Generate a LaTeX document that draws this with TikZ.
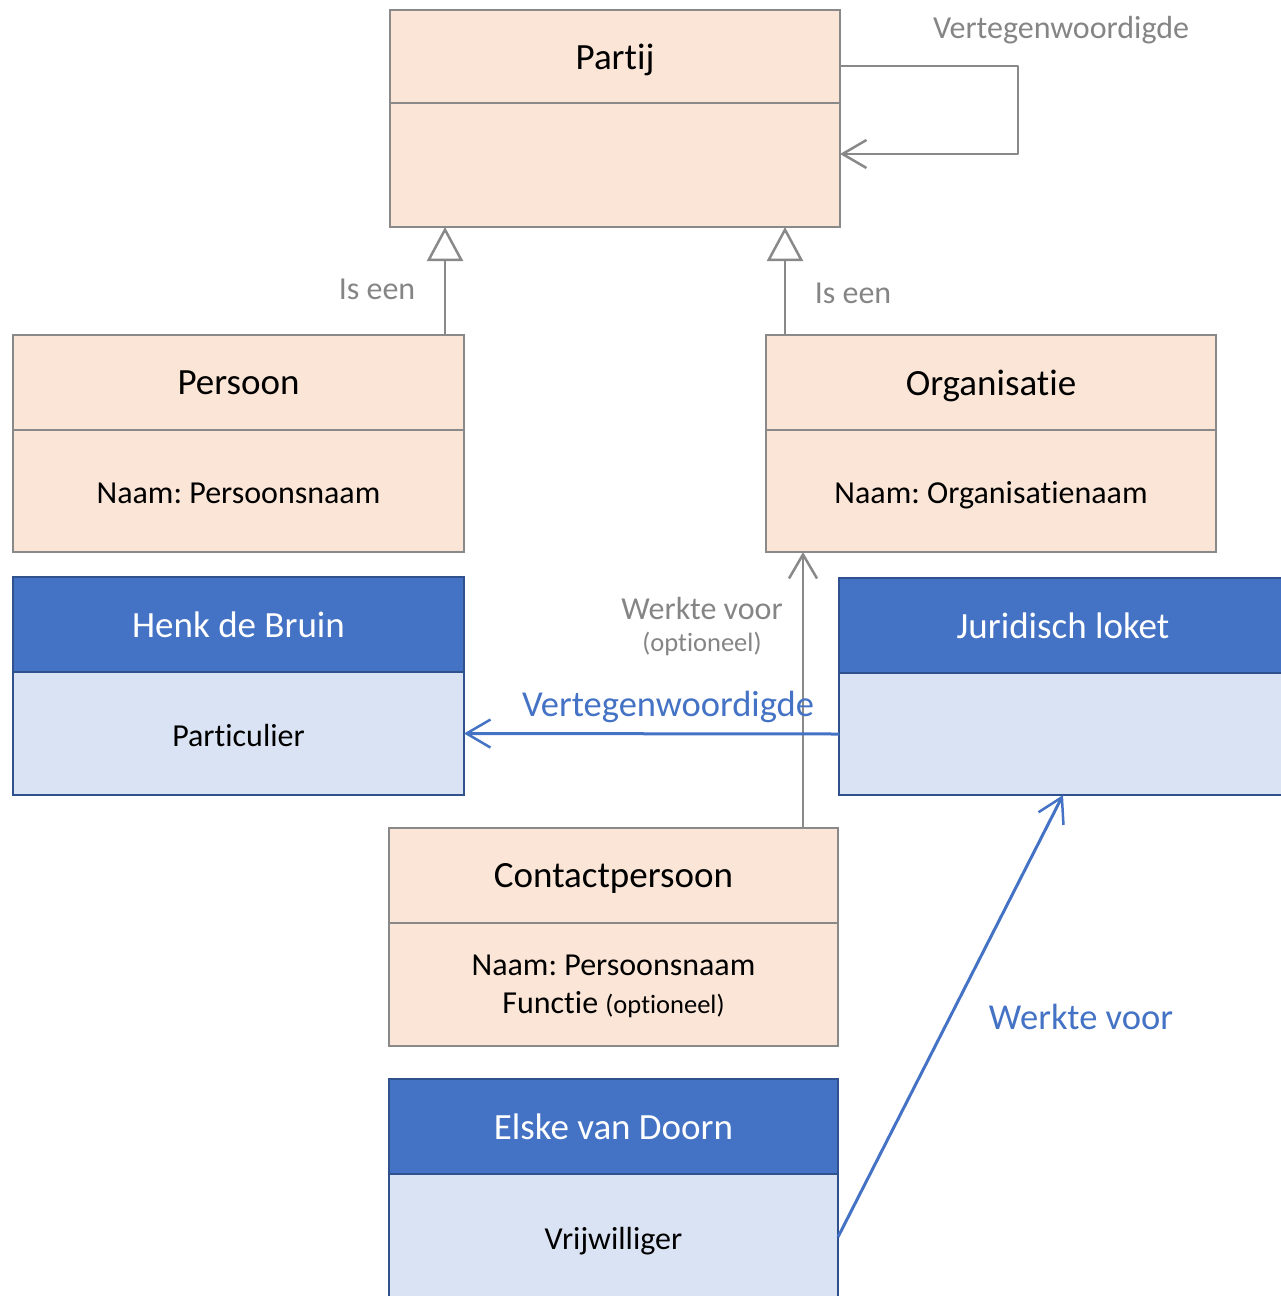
\documentclass[tikz,border=0pt]{standalone}
\usepackage{fontspec}
\setmainfont{Carlito}[Ligatures=NoCommon]
\frenchspacing
\usetikzlibrary{arrows.meta}
\definecolor{peachfill}{HTML}{FBE5D6}
\definecolor{boxgray}{HTML}{898989}
\definecolor{labelgray}{HTML}{858585}
\definecolor{bluehead}{HTML}{4472C4}
\definecolor{bluebody}{HTML}{DAE3F3}
\definecolor{blueedge}{HTML}{2F528F}
\newcommand{\titlesize}{\fontsize{37}{44}\selectfont}
\newcommand{\attrsize}{\fontsize{32}{38}\selectfont}
\newcommand{\smallsize}{\fontsize{26.5}{32}\selectfont}
\newcommand{\bluesize}{\fontsize{36.5}{44}\selectfont}
\begin{document}
\begin{tikzpicture}[x=1pt,y=-1pt,
  classpart/.style={rectangle, inner sep=0pt, outer sep=0pt, line width=2.5pt, align=center},
  peachhead/.style={classpart, draw=boxgray, fill=peachfill, font=\titlesize, text depth=0pt},
  peachbody/.style={classpart, draw=boxgray, fill=peachfill, font=\attrsize, text depth=0pt},
  bluehd/.style={classpart, draw=blueedge, fill=bluehead, text=white, font=\titlesize, text depth=0pt},
  bluebd/.style={classpart, draw=blueedge, fill=bluebody, font=\attrsize, text depth=0pt},
  oneline/.style={text height=25pt},
  graycon/.style={draw=boxgray, line width=2.5pt},
  bluecon/.style={draw=bluehead, line width=3pt},
  opentip/.style={-{Straight Barb[length=24pt,width=28pt,line width=2.5pt]}},
  gentip/.style={-{Triangle[open,length=34pt,width=36pt,line width=2.5pt]}},
  graylabel/.style={text=labelgray, font=\attrsize, inner sep=0pt},
  bluelabel/.style={text=bluehead, font=\bluesize, inner sep=0pt}]
\useasboundingbox (0,0) rectangle (1281,1296);
\clip (0,0) rectangle (1281,1296);

% Partij
\node[peachhead, minimum width=450, minimum height=93] (partijH) at (615,56.5) {Partij};
\node[peachbody, minimum width=450, minimum height=124, anchor=north] (partijB) at (partijH.south) {};

% Persoon
\node[peachhead, minimum width=451, minimum height=95] (persoonH) at (238.5,382.5) {Persoon};
\node[peachbody, oneline, minimum width=451, minimum height=122, anchor=north] (persoonB) at (persoonH.south) {Naam: Persoonsnaam};

% Organisatie
\node[peachhead, minimum width=450, minimum height=95] (orgH) at (991,382.5) {Organisatie};
\node[peachbody, oneline, minimum width=450, minimum height=122, anchor=north] (orgB) at (orgH.south) {Naam: Organisatienaam};

% Henk de Bruin
\node[bluehd, minimum width=451, minimum height=95] (henkH) at (238.5,624.5) {Henk de Bruin};
\node[bluebd, oneline, minimum width=451, minimum height=123, anchor=north] (henkB) at (henkH.south) {Particulier};

% Juridisch loket
\node[bluehd, minimum width=448, minimum height=95] (juridH) at (1063,625.5) {Juridisch loket};
\node[bluebd, minimum width=448, minimum height=122, anchor=north] (juridB) at (juridH.south) {};

% Contactpersoon
\node[peachhead, minimum width=449, minimum height=95] (contactH) at (613.5,875.5) {Contactpersoon};
\node[peachbody, minimum width=449, minimum height=123, anchor=north] (contactB) at (contactH.south)
  {Naam: Persoonsnaam\\[0pt]Functie {\smallsize(optioneel)}};

% Elske van Doorn
\node[bluehd, minimum width=449, minimum height=95] (elskeH) at (613.5,1126.5) {Elske van Doorn};
\node[bluebd, oneline, minimum width=449, minimum height=126, anchor=north] (elskeB) at (elskeH.south) {Vrijwilliger};

% self association on Partij
\coordinate (loopA) at (1018,66);
\coordinate (loopB) at (1018,154);
\draw[graycon, opentip, line join=round] (loopA -| partijH.east) -- (loopA) -- (loopB) -- (loopB -| partijB.east);
\node[graylabel] (loopLbl) at (1061,30) {Vertegenwoordigde};

% generalisations
\coordinate (genL) at (445,0);
\coordinate (genR) at (785,0);
\draw[graycon, gentip] (genL |- persoonH.north) -- (genL |- partijB.south);
\draw[graycon, gentip] (genR |- orgH.north) -- (genR |- partijB.south);
\node[graylabel] (isL) at (377,289) {Is een};
\node[graylabel] (isR) at (853,293) {Is een};

% Contactpersoon works for Organisatie
\coordinate (wv) at (803,0);
\draw[graycon, opentip] (wv |- contactH.north) -- (wv |- orgB.south);
\node[graylabel] (wvLbl) at (702,608) {Werkte voor};
\node[graylabel, font=\smallsize] (wvOpt) at (702,644) {(optioneel)};

% instance links
\draw[bluecon, opentip] (juridB.west) -- (henkB.east);
\node[bluelabel] (vtLbl) at (668,707) {Vertegenwoordigde};
\draw[bluecon, opentip] (elskeB.east) -- (juridB.south);
\node[bluelabel] (wvBlue) at (1081,1017) {Werkte voor};
\end{tikzpicture}
\end{document}
